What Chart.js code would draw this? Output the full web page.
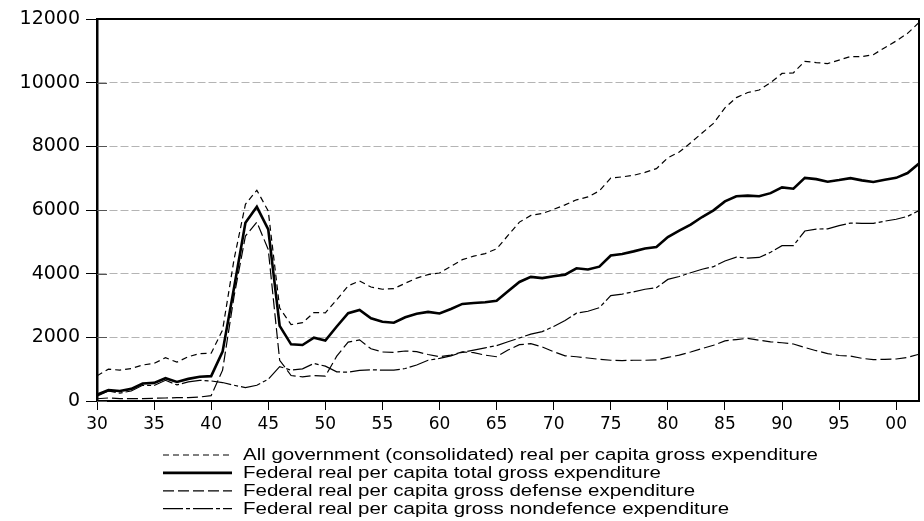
<!DOCTYPE html>
<html>
<head>
<meta charset="utf-8">
<script src="https://cdn.jsdelivr.net/npm/chart.js@4.4.0/dist/chart.umd.min.js"></script>
<style>
    html, body { margin: 0; padding: 0; background: #fff; }
    #wrap { width: 924px; height: 521px; }
</style>
</head>
<body>
<div id="wrap"><canvas id="line-chart" width="924" height="521"></canvas></div>
<script>
// anos 1930-2002
var years = [];
for (var yr = 1930; yr <= 2002; yr++) years.push(yr);

var labels = [
    "All government (consolidated) real per capita gross expenditure",
    "Federal real per capita total gross expenditure",
    "Federal real per capita gross defense expenditure",
    "Federal real per capita gross nondefence expenditure"
];

var allGov = [790, 1000, 970, 1020, 1130, 1180, 1360, 1220, 1390, 1490,
    1500, 2230, 4440, 6180, 6620, 5970, 2920, 2400, 2460, 2780,
    2770, 3180, 3620, 3770, 3580, 3510, 3530, 3700, 3860, 3970,
    4020, 4230, 4440, 4550, 4630, 4780, 5200, 5620, 5830, 5890,
    6020, 6160, 6320, 6410, 6600, 7000, 7040, 7090, 7180, 7300,
    7640, 7820, 8110, 8420, 8720, 9210, 9530, 9690, 9770, 10000,
    10290, 10310, 10670, 10630, 10600, 10710, 10820, 10820, 10880, 11100,
    11310, 11550, 11890];

var fedTotal = [200, 340, 315, 380, 550, 570, 715, 600, 695, 760,
    780, 1550, 3550, 5600, 6100, 5390, 2360, 1780, 1760, 1990,
    1900, 2340, 2760, 2860, 2600, 2490, 2460, 2630, 2740, 2800,
    2750, 2890, 3050, 3080, 3100, 3150, 3450, 3740, 3900, 3860,
    3920, 3970, 4170, 4130, 4220, 4570, 4620, 4700, 4790, 4840,
    5150, 5350, 5540, 5780, 5990, 6270, 6430, 6450, 6430, 6530,
    6710, 6670, 7010, 6970, 6890, 6940, 7000, 6930, 6880, 6950,
    7010, 7160, 7460];

var fedDefense = [70, 95, 75, 75, 75, 85, 95, 105, 105, 125,
    170, 970, 3280, 5180, 5620, 4760, 1280, 800, 760, 800,
    780, 1410, 1850, 1920, 1640, 1540, 1530, 1570, 1550, 1460,
    1390, 1440, 1540, 1520, 1440, 1390, 1600, 1770, 1800, 1700,
    1550, 1420, 1390, 1350, 1310, 1280, 1270, 1280, 1280, 1290,
    1370, 1440, 1540, 1650, 1750, 1890, 1930, 1970, 1910, 1860,
    1830, 1790, 1680, 1580, 1490, 1430, 1410, 1340, 1300, 1310,
    1320, 1370, 1470];

var fedNondefense = [150, 315, 250, 315, 495, 485, 650, 505, 600, 650,
    630, 580, 495, 420, 495, 685, 1080, 970, 1010, 1180,
    1095, 915, 905, 960, 980, 970, 970, 1020, 1130, 1280,
    1340, 1420, 1530, 1600, 1670, 1740, 1860, 1980, 2100, 2180,
    2340, 2530, 2760, 2820, 2930, 3310, 3360, 3430, 3510, 3560,
    3820, 3910, 4030, 4140, 4220, 4400, 4520, 4490, 4510, 4670,
    4880, 4880, 5340, 5400, 5410, 5510, 5590, 5580, 5580, 5650,
    5710, 5800, 5980];

var yTicks = [0, 2000, 4000, 6000, 8000, 10000, 12000];
var xTicks = [1930, 1935, 1940, 1945, 1950, 1955, 1960, 1965, 1970, 1975, 1980, 1985, 1990, 1995, 2000];

function toPoints(values) {
    return values.map(function (v, i) { return { x: years[i], y: v }; });
}

// moldura, marcas internas do eixo y e legenda desenhada à mão
var framePlugin = {
    id: 'frame',
    beforeDatasetsDraw: function (chart) {
        var ctx = chart.ctx, a = chart.chartArea, ys = chart.scales.y;
        ctx.save();
        ctx.strokeStyle = '#555';
        ctx.lineWidth = 1;
        yTicks.forEach(function (t) {
            var py = Math.round(ys.getPixelForValue(t)) + 0.5;
            ctx.beginPath();
            ctx.moveTo(a.left, py);
            ctx.lineTo(a.left + 10, py);
            ctx.stroke();
        });
        ctx.restore();
    },
    afterDraw: function (chart) {
        var ctx = chart.ctx, a = chart.chartArea;
        ctx.save();
        ctx.strokeStyle = '#000';
        ctx.lineWidth = 2;
        ctx.beginPath();
        ctx.moveTo(a.left, a.top);
        ctx.lineTo(a.right, a.top);
        ctx.lineTo(a.right, a.bottom);
        ctx.stroke();

        // legenda: texto esticado na horizontal como no original
        ctx.font = '16px "Liberation Sans", Arial';
        ctx.fillStyle = '#000';
        ctx.textBaseline = 'middle';
        var sx = 575 / ctx.measureText(labels[0]).width;
        labels.forEach(function (lbl, i) {
            var ds = chart.data.datasets.find(function (d) { return d.label === lbl; });
            var y = 455 + i * 17.9;
            ctx.save();
            ctx.strokeStyle = '#000';
            ctx.lineWidth = ds.borderWidth;
            ctx.setLineDash(ds.borderDash || []);
            ctx.beginPath();
            ctx.moveTo(163, y);
            ctx.lineTo(232, y);
            ctx.stroke();
            ctx.restore();
            ctx.save();
            ctx.translate(243, y + 1);
            ctx.scale(sx, 1);
            ctx.fillText(lbl, 0, 0);
            ctx.restore();
        });
        ctx.restore();
    }
};

var ctx = document.getElementById('line-chart').getContext('2d');
var myChart = new Chart(ctx, {
    type: 'line',
    data: {
        datasets: [{
            label: labels[0],
            data: toPoints(allGov),
            borderColor: '#000',
            borderWidth: 1.2,
            borderDash: [6, 4]
        }, {
            label: labels[2],
            data: toPoints(fedDefense),
            borderColor: '#000',
            borderWidth: 1.2,
            borderDash: [11, 4]
        }, {
            label: labels[3],
            data: toPoints(fedNondefense),
            borderColor: '#000',
            borderWidth: 1.2,
            borderDash: [20, 3, 4, 3]
        }, {
            label: labels[1],
            data: toPoints(fedTotal),
            borderColor: '#000',
            borderWidth: 2.6,
            borderDash: []
        }]
    },
    options: {
        responsive: false,
        animation: false,
        events: [],
        elements: { point: { radius: 0 }, line: { tension: 0, fill: false } },
        layout: { padding: { left: 0, right: 5, top: 19, bottom: 0 } },
        plugins: { legend: { display: false }, tooltip: { enabled: false } },
        scales: {
            x: {
                type: 'linear',
                min: 1930,
                max: 2002,
                afterBuildTicks: function (scale) {
                    scale.ticks = xTicks.map(function (v) { return { value: v }; });
                },
                afterFit: function (scale) { scale.height = 120; },
                grid: { drawOnChartArea: false, tickLength: 9, tickColor: '#000', tickWidth: 1 },
                border: { color: '#000', width: 2 },
                ticks: {
                    color: '#000',
                    font: { family: 'DejaVu Sans', size: 17 },
                    padding: 4,
                    maxRotation: 0,
                    autoSkip: false,
                    callback: function (v) { return String(v % 100).padStart(2, '0'); }
                }
            },
            y: {
                min: 0,
                max: 12000,
                afterBuildTicks: function (scale) {
                    scale.ticks = yTicks.map(function (v) { return { value: v }; });
                },
                afterFit: function (scale) { scale.width = 97; },
                grid: { color: '#b4b4b4', lineWidth: 1, tickLength: 11, tickColor: '#000', tickBorderDash: [] },
                border: { color: '#000', width: 2.5, dash: [8, 3] },
                ticks: {
                    color: '#000',
                    font: { family: 'DejaVu Sans', size: 19 },
                    padding: 6,
                    callback: function (v) { return String(v); }
                }
            }
        }
    },
    plugins: [framePlugin]
});
</script>
</body>
</html>
